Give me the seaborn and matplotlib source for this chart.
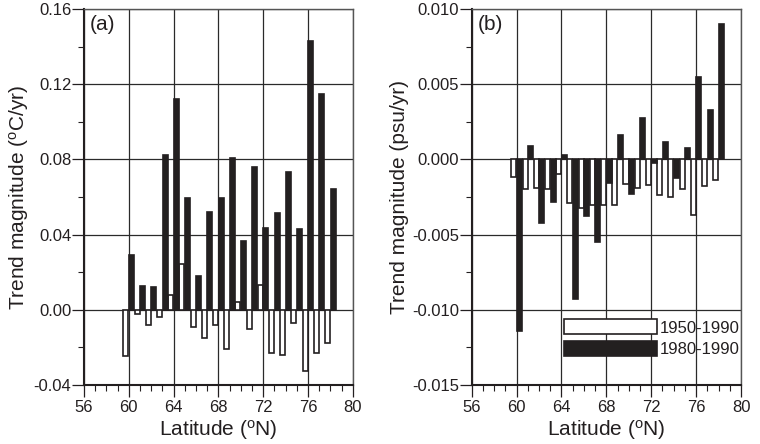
import numpy as np
import pandas as pd
import matplotlib
matplotlib.use('Agg')
import matplotlib.pyplot as plt
import seaborn as sns
from matplotlib.ticker import MultipleLocator, FormatStrFormatter

# Data
lat = list(range(60, 79))
periods = ['1950-1990', '1980-1990']

temp_1950 = [-0.0244, -0.0023, -0.0080, -0.0037, 0.0078, 0.0242, -0.0093, -0.0152, -0.0081, -0.0208,
             0.0039, -0.0102, 0.0133, -0.0230, -0.0239, -0.0071, -0.0327, -0.0231, -0.0177]
temp_1980 = [0.0292, 0.0124, 0.0120, 0.0822, 0.1123, 0.0593, 0.0180, 0.0520, 0.0596, 0.0805,
             0.0366, 0.0759, 0.0433, 0.0513, 0.0732, 0.0432, 0.1432, 0.1148, 0.0644]

sal_1950 = [-0.00117, -0.00200, -0.00188, -0.00200, -0.00095, -0.00287, -0.00320, -0.00300, -0.00300, -0.00300,
            -0.00166, -0.00188, -0.00172, -0.00238, -0.00250, -0.00194, -0.00370, -0.00180, -0.00137]
sal_1980 = [-0.01144, 0.00088, -0.00420, -0.00280, 0.00029, -0.00927, -0.00375, -0.00550, -0.00155, 0.00159,
            -0.00227, 0.00276, -0.00022, 0.00115, -0.00121, 0.00073, 0.00548, 0.00331, 0.00900]


def long_table(a, b):
    return pd.DataFrame({
        'lat': lat + lat,
        'period': [periods[0]] * len(lat) + [periods[1]] * len(lat),
        'value': a + b,
    })


df_t = long_table(temp_1950, temp_1980)
df_s = long_table(sal_1950, sal_1980)

sns.set_style('ticks')
plt.rcParams['font.family'] = ['Liberation Sans', 'DejaVu Sans']
plt.rcParams['mathtext.fontset'] = 'custom'
plt.rcParams['mathtext.rm'] = 'Liberation Sans'
plt.rcParams['mathtext.it'] = 'Liberation Sans:italic'
ink = '#231f20'
plt.rcParams['text.color'] = ink
plt.rcParams['axes.labelcolor'] = ink
plt.rcParams['xtick.color'] = ink
plt.rcParams['ytick.color'] = ink

colors = {'1950-1990': 'white', '1980-1990': ink}

fig = plt.figure(figsize=(7.6, 4.44), dpi=100)
ax1 = fig.add_axes([0.1105, 0.1329, 0.3536, 0.8468])
ax2 = fig.add_axes([0.6207, 0.1329, 0.3543, 0.8468])

panels = [
    (ax1, df_t, (-0.04, 0.16), 0.04, '%.2f', r'Trend magnitude ($^{\mathrm{o}}$C/yr)', '(a)'),
    (ax2, df_s, (-0.015, 0.010), 0.005, '%.3f', 'Trend magnitude (psu/yr)', '(b)'),
]

for ax, df, ylim, ystep, fmt, ylabel, tag in panels:
    sns.barplot(data=df, x='lat', y='value', hue='period', hue_order=periods,
                palette=colors, native_scale=True, width=1.0, gap=0.1,
                edgecolor=ink, linewidth=1.2, errorbar=None, ax=ax)
    ax.set_axisbelow(True)
    ax.set_xlim(56, 80)
    ax.set_ylim(*ylim)
    ax.xaxis.set_major_locator(MultipleLocator(4))
    ax.xaxis.set_minor_locator(MultipleLocator(1))
    ax.xaxis.set_major_formatter(FormatStrFormatter('%d'))
    ax.yaxis.set_major_locator(MultipleLocator(ystep))
    ax.yaxis.set_minor_locator(MultipleLocator(ystep / 2))
    ax.yaxis.set_major_formatter(FormatStrFormatter(fmt))
    ax.grid(True, which='major', color='#2a2a2a', linewidth=0.9)
    ax.tick_params(which='major', direction='out', length=8.5, width=0.9, labelsize=12)
    ax.tick_params(which='minor', direction='out', length=4.3, width=0.8)
    ax.tick_params(axis='y', which='major', pad=0.5)
    ax.tick_params(axis='x', which='major', pad=2.5)
    for side in ['left', 'bottom']:
        ax.spines[side].set_linewidth(1.5)
        ax.spines[side].set_color(ink)
    for side in ['top', 'right']:
        ax.spines[side].set_linewidth(1.0)
        ax.spines[side].set_color('#555555')
    ax.set_xlabel(r'Latitude ($^{\mathrm{o}}$N)', fontsize=15, labelpad=2)
    ax.set_ylabel(ylabel, fontsize=15, labelpad=2)
    ax.text(0.022, 0.985, tag, transform=ax.transAxes, ha='left', va='top', fontsize=15)

ax1.get_legend().remove()
handles, labels = ax2.get_legend_handles_labels()
ax2.get_legend().remove()
ax2.legend(handles, labels, loc='lower left', bbox_to_anchor=(0.343, 0.075),
           frameon=False, fontsize=12, handlelength=5.6, handleheight=1.0,
           handletextpad=0.15, labelspacing=0.3, borderpad=0, borderaxespad=0)

fig.savefig('out.png', dpi=100)
